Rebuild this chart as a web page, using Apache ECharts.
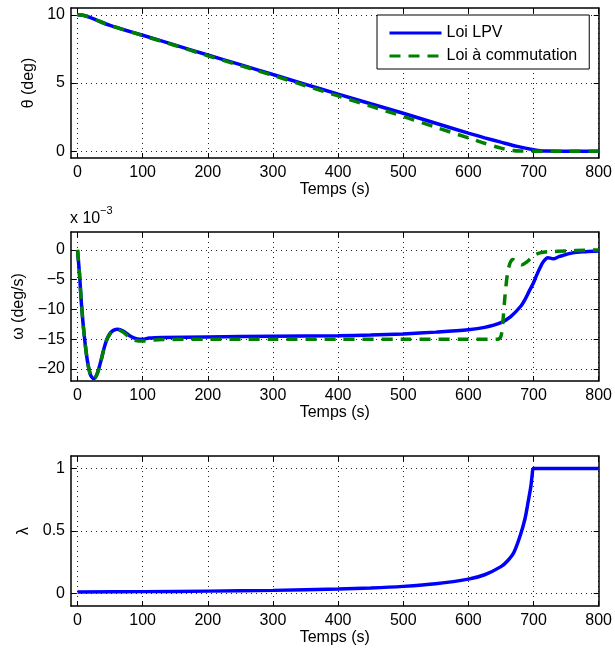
<!DOCTYPE html>
<html><head><meta charset="utf-8">
<script src="https://cdn.jsdelivr.net/npm/echarts@6/dist/echarts.min.js"></script>
<style>html,body{margin:0;padding:0;background:#fff}#c{width:615px;height:653px}</style>
</head><body><div id="c"></div>
<script>
// ---- data ----
const xTicks = [0, 100, 200, 300, 400, 500, 600, 700, 800];
const thetaTicks = [0, 5, 10];
const omegaTicks = [-20, -15, -10, -5, 0];
const lambdaTicks = [0, 0.5, 1];

const thetaLpvT = [0, 10, 20, 30, 40, 50, 75, 100, 150, 200, 250, 300, 350, 400, 450, 500, 550, 600, 625, 650, 675, 700, 710, 720, 750, 800];
const thetaLpvV = [10, 9.95, 9.8, 9.6, 9.4, 9.22, 8.85, 8.5, 7.78, 7.05, 6.35, 5.62, 4.9, 4.18, 3.48, 2.78, 2.05, 1.32, 0.98, 0.66, 0.35, 0.1, 0.04, 0.01, 0, 0];
const thetaComT = [0, 10, 20, 30, 40, 50, 75, 100, 150, 200, 250, 300, 350, 400, 450, 500, 550, 600, 625, 650, 665, 680, 700, 750, 800];
const thetaComV = [10, 9.95, 9.8, 9.6, 9.4, 9.22, 8.85, 8.48, 7.75, 7.0, 6.28, 5.55, 4.8, 4.05, 3.3, 2.55, 1.75, 0.98, 0.58, 0.22, 0.07, 0.01, 0, 0, 0];

const omegaLpvT = [0, 3, 6, 10, 15, 20, 25, 30, 35, 40, 45, 50, 55, 62, 70, 80, 90, 100, 110, 130, 200, 300, 400, 450, 500, 550, 600, 625, 650, 665, 680, 687, 693, 700, 705, 710, 715, 722, 730, 740, 760, 780, 800];
const omegaLpvV = [0, -4, -9, -14, -18.5, -21, -21.6, -20.8, -19, -16.8, -15, -14, -13.5, -13.3, -13.6, -14.4, -14.9, -15, -14.8, -14.7, -14.6, -14.5, -14.4, -14.3, -14.1, -13.8, -13.4, -13, -12.2, -11.2, -9.5, -8.3, -7, -5.5, -4.2, -3.0, -2.0, -1.3, -1.5, -1.1, -0.5, -0.3, -0.2];
const omegaComT = [0, 3, 6, 10, 15, 20, 25, 30, 35, 40, 45, 50, 55, 62, 70, 80, 90, 100, 110, 130, 200, 300, 400, 500, 600, 645, 650, 653, 656, 660, 664, 668, 675, 682, 690, 700, 710, 725, 750, 780, 800];
const omegaComV = [0, -4, -9, -14, -18.5, -21, -21.7, -20.9, -19.1, -16.9, -15.1, -14.1, -13.6, -13.4, -13.8, -14.7, -15.2, -15.3, -15.2, -15.05, -15, -15, -15, -15, -15, -15, -14.5, -12, -8, -4, -2.2, -1.6, -2.1, -2.5, -2.0, -1.0, -0.5, -0.3, -0.2, -0.05, 0];

const lambdaT = [0, 100, 200, 300, 400, 450, 500, 550, 600, 625, 650, 660, 670, 680, 687, 692, 696, 698, 700, 750, 800];
const lambdaV = [0.012, 0.015, 0.019, 0.025, 0.036, 0.044, 0.057, 0.078, 0.115, 0.15, 0.215, 0.26, 0.33, 0.47, 0.6, 0.74, 0.86, 0.95, 1, 1, 1];

const nameLpv = 'Loi LPV';
const nameCom = 'Loi à commutation';

// ---- chart ----
const FONT = 'Liberation Sans, Arial, Helvetica, sans-serif';
const zip = (t, v) => t.map((x, i) => [x, v[i]]);
const grids = [
  { left: 71, right: 16, top: 8, height: 150 },
  { left: 71, right: 16, top: 232, height: 149 },
  { left: 71, right: 16, top: 456, height: 150 }
];
const tickStyle = { show: true, inside: true, length: 5, lineStyle: { color: '#000', width: 1 } };
const lineStyle = { show: true, onZero: false, lineStyle: { color: '#000', width: 1.5 } };
const gridLine = { show: true, lineStyle: { color: '#222', width: 1, type: [1, 4] } };
const fmt = v => String(v).replace('-', '\u2212');

function xAxes(gi) {
  return [
    { type: 'value', gridIndex: gi, min: -10, max: 800, position: 'bottom',
      axisLine: lineStyle, axisTick: Object.assign({ customValues: xTicks }, tickStyle),
      axisLabel: { customValues: xTicks, fontSize: 16, color: '#000', fontFamily: FONT, margin: 7 },
      splitLine: gridLine,
      name: 'Temps (s)', nameLocation: 'middle', nameGap: 24,
      nameTextStyle: { fontSize: 16, color: '#000', fontFamily: FONT } },
    { type: 'value', gridIndex: gi, min: -10, max: 800, position: 'top',
      axisLine: lineStyle, axisTick: Object.assign({ customValues: xTicks }, tickStyle),
      axisLabel: { show: false }, splitLine: { show: false } }
  ];
}
function yAxes(gi, min, max, ticks, name, gap) {
  return [
    { type: 'value', gridIndex: gi, min: min, max: max, position: 'left',
      axisLine: lineStyle, axisTick: Object.assign({ customValues: ticks }, tickStyle),
      axisLabel: { customValues: ticks, formatter: fmt, fontSize: 16, color: '#000', fontFamily: FONT, margin: 6 },
      splitLine: gridLine,
      name: name, nameLocation: 'middle', nameGap: gap, nameRotate: 90,
      nameTextStyle: { fontSize: 16, color: '#000', fontFamily: FONT } },
    { type: 'value', gridIndex: gi, min: min, max: max, position: 'right',
      axisLine: lineStyle, axisTick: Object.assign({ customValues: ticks }, tickStyle),
      axisLabel: { show: false }, splitLine: { show: false } }
  ];
}

const blue = '#0000ff', green = '#008000';
function lpv(idx, data) {
  return { type: 'line', name: nameLpv, xAxisIndex: idx * 2, yAxisIndex: idx * 2, data: data,
    showSymbol: false, symbol: 'none', smooth: 0.3, z: 2,
    lineStyle: { color: blue, width: 3.5 }, itemStyle: { color: blue } };
}
function com(idx, data) {
  return { type: 'line', name: nameCom, xAxisIndex: idx * 2, yAxisIndex: idx * 2, data: data,
    showSymbol: false, symbol: 'none', smooth: 0.3, z: 3,
    lineStyle: { color: green, width: 3.5, type: [11, 8] }, itemStyle: { color: green } };
}

const option = {
  animation: false,
  backgroundColor: '#fff',
  textStyle: { fontFamily: FONT },
  grid: grids,
  xAxis: [].concat(xAxes(0), xAxes(1), xAxes(2)),
  yAxis: [].concat(
    yAxes(0, -0.5, 10.5, thetaTicks, 'θ (deg)', 27),
    yAxes(1, -22, 3, omegaTicks, 'ω (deg/s)', 28),
    yAxes(2, -0.1, 1.1, lambdaTicks, 'λ', 36)
  ),
  legend: {
    data: [nameLpv, nameCom], orient: 'vertical', left: 377, top: 15,
    padding: [10, 12, 5, 11], itemWidth: 52, itemHeight: 14, itemGap: 7,
    borderColor: '#000', borderWidth: 1, backgroundColor: '#fff',
    itemStyle: { opacity: 0 },
    lineStyle: { width: 3 },
    textStyle: { fontSize: 16, color: '#000', fontFamily: FONT }
  },
  graphic: [
    { type: 'text', left: 70, top: 211, style: { text: 'x 10', fontSize: 16, fill: '#000', fontFamily: FONT } },
    { type: 'text', left: 100, top: 205, style: { text: '\u22123', fontSize: 11, fill: '#000', fontFamily: FONT } }
  ],
  series: [
    lpv(0, zip(thetaLpvT, thetaLpvV)),
    com(0, zip(thetaComT, thetaComV)),
    lpv(1, zip(omegaLpvT, omegaLpvV)),
    com(1, zip(omegaComT, omegaComV)),
    lpv(2, zip(lambdaT, lambdaV))
  ]
};
echarts.init(document.getElementById('c')).setOption(option);
</script>
</body></html>
